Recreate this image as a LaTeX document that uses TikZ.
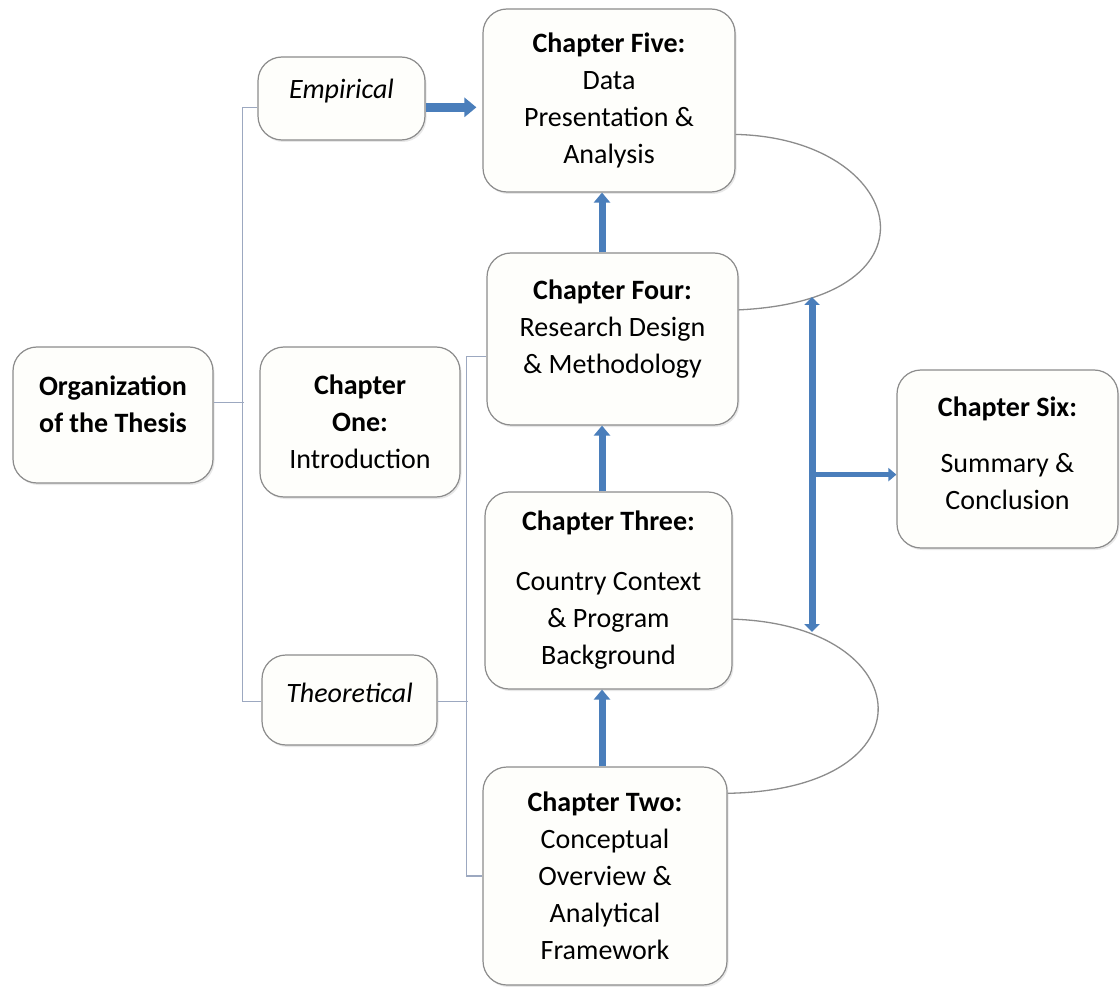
\documentclass[tikz,border=0pt]{standalone}
\usepackage{fontspec}
\setmainfont{Carlito}
\usetikzlibrary{arrows.meta,shadows}
\definecolor{flowblue}{HTML}{4A7EBB}
\definecolor{boxgray}{HTML}{8C8C8C}
\definecolor{boxfill}{HTML}{FEFEFB}
\definecolor{linkgray}{HTML}{9CA8C0}
% empty last line, lifts the text a little
\newcommand{\lift}[1]{\\[#1]\mbox{}}
\tikzset{
  chapbox/.style={draw=boxgray, line width=1.2pt, fill=boxfill, rounded corners=24pt,
    drop shadow={opacity=0.18, shadow xshift=1.5pt, shadow yshift=-2pt},
    align=center, inner sep=0pt, font=\fontsize{28}{37}\selectfont},
  bracket/.style={draw=linkgray, line width=1.5pt},
  loopline/.style={draw=boxgray, line width=1.3pt},
  flow/.style={draw=flowblue, line width=7pt, -{Triangle[length=10pt,width=16pt]}},
}
\begin{document}
\begin{tikzpicture}[x=1pt,y=-1pt]
    \fill[white] (0,0) rectangle (1120,987);
    \useasboundingbox (0,0) rectangle (1120,987);

    \node[chapbox, minimum width=200pt, minimum height=136pt] (org) at (113,415) {\textbf{Organization}\\\textbf{of the Thesis}\lift{-15pt}};
    \node[chapbox, minimum width=167pt, minimum height=83pt] (emp) at (341.5,98.5) {\textit{Empirical}\lift{-17pt}};
    \node[chapbox, minimum width=200pt, minimum height=150pt] (one) at (360,422) {\textbf{Chapter}\\\textbf{One:}\\Introduction};
    \node[chapbox, minimum width=175pt, minimum height=90pt] (theo) at (349.5,700) {\textit{Theoretical}\lift{-23pt}};
    \node[chapbox, minimum width=252pt, minimum height=183pt] (five) at (609,100.5) {\textbf{Chapter Five:}\\Data\\Presentation \&\\Analysis};
    \node[chapbox, minimum width=251pt, minimum height=172pt] (four) at (612.5,339) {\textbf{Chapter Four:}\\Research Design\\\& Methodology\lift{-13pt}};
    \node[chapbox, minimum width=247pt, minimum height=197pt] (three) at (608.5,590.5) {\textbf{Chapter Three:}\\[23pt]Country Context\\\& Program\\Background};
    \node[chapbox, minimum width=244pt, minimum height=218pt] (two) at (605,876) {\textbf{Chapter Two:}\\Conceptual\\Overview \&\\Analytical\\Framework};
    \node[chapbox, minimum width=221pt, minimum height=178pt] (six) at (1007.5,459) {\textbf{Chapter Six:}\\[19pt]Summary \&\\Conclusion\lift{-26pt}};

    \coordinate (spine) at (602,0);
    \coordinate (railtop) at (812,297);
    \coordinate (railbot) at (812,632);

    % brackets
    \draw[bracket] (emp.186) -- ++(-15,0) |- (theo.181);
    \draw[bracket] (org.7) -- ++(30,0);
    \draw[bracket] (four.188) -- ++(-20,0) |- (two.west);
    \draw[bracket] (theo.-1) -- ++(30,0);

    % loops on the right
    \draw[loopline] (five.-15) .. controls (905,138) and (950,300) .. (four.13);
    \draw[loopline] (three.-13) .. controls (920,625) and (935,790) .. (two.34);

    % arrows
    \draw[flow, line width=9pt, -{Triangle[length=12pt,width=19pt]}, shorten >=6pt] (emp.-6) -- (emp.-6 -| five.west);
    \foreach \a/\b in {four/five,three/four,two/three} {
        \draw[flow] (\a.north -| spine) -- (\b.south -| spine);
    }
    \draw[flow, {Triangle[length=8pt,width=15pt]}-{Triangle[length=8pt,width=15pt]}] (railtop) -- (railbot);
    \draw[flow, line width=5pt, -{Triangle[length=8pt,width=13pt]}] (six.188 -| railtop) -- (six.188);
\end{tikzpicture}
\end{document}
